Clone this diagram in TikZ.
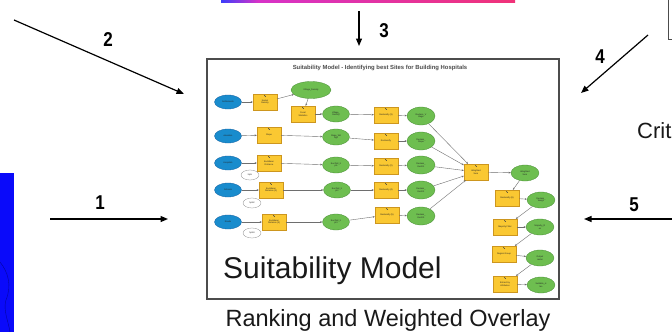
\documentclass[tikz,border=0pt]{standalone}
\usepackage{fontspec}
\setmainfont{Liberation Sans}
\usetikzlibrary{shapes.geometric,arrows.meta}
\definecolor{mblue}{RGB}{25,140,205}
\definecolor{mbluedk}{RGB}{20,95,160}
\definecolor{mgreen}{RGB}{110,190,80}
\definecolor{mgreendk}{RGB}{70,140,50}
\definecolor{myellow}{RGB}{250,200,50}
\definecolor{myellowdk}{RGB}{205,150,30}
\definecolor{edgegray}{RGB}{110,110,110}
\definecolor{barblue}{RGB}{60,60,250}
\definecolor{barmag}{RGB}{215,50,200}
\definecolor{barpink}{RGB}{240,50,120}
\definecolor{mapblue}{RGB}{10,10,250}
\tikzset{
  tiny/.style={font=\fontsize{2.2}{2.6}\selectfont, text=black!85, align=center, inner sep=0pt},
  inblue/.style={tiny, ellipse, fill=mblue, draw=mbluedk, line width=0.3pt, minimum width=27pt, minimum height=14pt},
  ingreen/.style={tiny, ellipse, fill=mgreen, draw=mgreendk, line width=0.3pt, minimum width=27pt, minimum height=16pt},
  inwhite/.style={tiny, ellipse, fill=white, draw=black!45, line width=0.3pt, minimum width=18pt, minimum height=10pt},
  tool/.style={tiny, rectangle, fill=myellow, draw=myellowdk, line width=0.3pt, minimum width=24pt, minimum height=16pt,
    path picture={\draw[line width=0.5pt, black!75] ([shift={(-0.7pt,-1.2pt)}]path picture bounding box.north) -- ++(1.4pt,-1.6pt);}},
  flow/.style={draw=edgegray, line width=0.4pt, -{Stealth[length=2.2pt,width=1.8pt]}},
  bigarrow/.style={draw=black, line width=1.2pt, -{Triangle[length=7.5pt,width=6pt]}},
  num/.style={font=\fontsize{20}{20}\selectfont\bfseries, xscale=0.85, inner sep=0pt},
}
\begin{document}
\begin{tikzpicture}[x=1pt,y=-1pt]
\useasboundingbox (0,0) rectangle (672,332);
\fill[white] (0,0) rectangle (672,332);

% top gradient bar
\shade[left color=barblue, right color=barmag] (221,0) rectangle (258,2.5);
\shade[left color=barmag, right color=barpink] (258,0) rectangle (515,2.5);

% left map fragment
\fill[mapblue] (0,173) rectangle (14,332);
\draw[blue!40!black, line width=0.4pt, opacity=0.6] (0,262) .. controls (8,272) and (12,285) .. (6,300) .. controls (3,310) and (8,320) .. (10,332);

% top right box fragment
\draw[black!70, line width=0.8pt] (668,0) -- (668,39) -- (672,39);

% main frame
\draw[black!70, line width=1.2pt, fill=white] (207,59) rectangle (559,299);
\node[font=\fontsize{5.9}{6}\selectfont\bfseries, text=black!70, inner sep=0pt] (title) at (380,68) {Suitability Model - Identifying best Sites for Building Hospitals};

% row 1
\node[inblue] (b1) at (228,102) {Settlements};
\node[tool] (k1) at (265,102) {Kernel\\Density};
\node[ingreen, minimum width=40pt, minimum height=17pt] (vd) at (311,90) {Village\_Density};
\node[tool] (fs) at (303,114) {Focal\\Statistics};
\node[ingreen] (g1a) at (336,114) {Village\_\\Density};
\node[tool] (r1) at (386,115) {Reclassify (3)};
\node[ingreen, minimum width=28pt, minimum height=18pt] (g1b) at (421,116) {Reclass\_V\\illage};
% row 2
\node[inblue] (b2) at (228,136) {elevation};
\node[tool] (y2) at (269,135) {Slope};
\node[ingreen] (g2a) at (336,137) {Slope\_Wil\\Dgit};
\node[tool] (r2) at (386,141) {Reclassify};
\node[ingreen, minimum width=28pt, minimum height=18pt] (g2b) at (421,141) {Reclass\_\\Slope};
% row 3
\node[inblue] (b3) at (228,163) {Hospitals};
\node[tool] (y3) at (269,163) {Euclidean\\Distance};
\node[inwhite] (w3) at (250,175) {hpts};
\node[ingreen] (g3a) at (336,165) {EucDist\_h\\pts};
\node[tool] (r3) at (386,166) {Reclassify (2)};
\node[ingreen, minimum width=28pt, minimum height=18pt] (g3b) at (421,165) {Reclass\_\\EucD1};
% row 4
\node[inblue] (b4) at (228,190) {Schools};
\node[tool] (y4) at (271,190) {Euclidean\\Distance (2)};
\node[inwhite] (w4) at (252,203) {hpts2};
\node[ingreen] (g4a) at (337,190) {EucDist\_h\\pt2};
\node[tool] (r4) at (386,190) {Reclassify (4)};
\node[ingreen, minimum width=28pt, minimum height=18pt] (g4b) at (421,190) {Reclass\_\\EucD2};
% row 5
\node[inblue] (b5) at (228,222) {Roads};
\node[tool] (y5) at (274,222) {Euclidean\\Distance (3)};
\node[inwhite] (w5) at (252,233) {hpts3};
\node[ingreen] (g5a) at (336,222) {EucDist\_h\\pt3};
\node[tool] (r5) at (387,215) {Reclassify (5)};
\node[ingreen, minimum width=28pt, minimum height=18pt] (g5b) at (421,216) {Reclass\_\\EucD3};
% output chain
\node[tool] (ws) at (476,172) {Weighted\\Sum};
\node[ingreen, minimum width=28pt] (gws) at (525,173) {Weighted\\Sum};
\node[tool] (r6) at (507,198) {Reclassify (6)};
\node[ingreen, minimum width=28pt] (g6) at (541,200) {Reclass\_\\Weig1};
\node[tool] (mf) at (505,227) {Majority Filter};
\node[ingreen, minimum width=28pt] (gmf) at (540,227) {Majority\_R\\ec};
\node[tool] (rg) at (504,254) {Region Group};
\node[ingreen, minimum width=28pt] (grg) at (540,258) {Output\\raster};
\node[tool] (ex) at (505,284) {Extract by\\Attributes};
\node[ingreen, minimum width=28pt] (gex) at (541,285) {Suitable\_si\\tes};

% model flows
\draw[flow] (b1) -- (k1);
\draw[flow] (k1) -- (vd);
\draw[flow] (vd) -- (fs);
\draw[flow] (fs) -- (g1a);
\draw[flow] (g1a) -- (r1);
\draw[flow] (r1) -- (g1b);
\draw[flow] (g1b) -- (ws);
\draw[flow] (b2) -- (y2);
\draw[flow] (y2) -- (g2a);
\draw[flow] (g2a) -- (r2);
\draw[flow] (r2) -- (g2b);
\draw[flow] (g2b) -- (ws);
\draw[flow] (b3) -- (y3);
\draw[flow] (y3) -- (g3a);
\draw[flow] (g3a) -- (r3);
\draw[flow] (r3) -- (g3b);
\draw[flow] (g3b) -- (ws);
\draw[flow] (b4) -- (y4);
\draw[flow] (y4) -- (g4a);
\draw[flow] (g4a) -- (r4);
\draw[flow] (r4) -- (g4b);
\draw[flow] (g4b) -- (ws);
\draw[flow] (b5) -- (y5);
\draw[flow] (y5) -- (g5a);
\draw[flow] (g5a) -- (r5);
\draw[flow] (r5) -- (g5b);
\draw[flow] (g5b) -- (ws);
\draw[flow] (ws) -- (gws);
\draw[flow] (gws) -- (r6);
\draw[flow] (r6) -- (g6);
\draw[flow] (g6) -- (mf);
\draw[flow] (mf) -- (gmf);
\draw[flow] (gmf) -- (rg);
\draw[flow] (rg) -- (grg);
\draw[flow] (grg) -- (ex);
\draw[flow] (ex) -- (gex);

% big caption texts
\node[font=\fontsize{30}{30}\selectfont, anchor=base west, inner sep=0pt, text=black!90] (smodel) at (223,278) {Suitability Model};
\node[font=\fontsize{23.5}{24}\selectfont, anchor=base, inner sep=0pt, text=black!90] (rank) at (388,326.5) {Ranking and Weighted Overlay};
\node[font=\fontsize{22}{22}\selectfont, anchor=base west, inner sep=0pt, text=black!90] (crit) at (637,138) {Crit};

% numbered arrows
\coordinate (a1s) at (50,219);  \coordinate (a1e) at (168,219);
\coordinate (a2s) at (14,20);   \coordinate (a2e) at (184,94);
\coordinate (a3s) at (359,11);  \coordinate (a3e) at (359,46);
\coordinate (a4s) at (648,35);  \coordinate (a4e) at (581,93);
\coordinate (a5s) at (672,219); \coordinate (a5e) at (584,219);
\draw[bigarrow] (a1s) -- (a1e);
\draw[bigarrow] (a2s) -- (a2e);
\draw[bigarrow] (a3s) -- (a3e);
\draw[bigarrow] (a4s) -- (a4e);
\draw[bigarrow] (a5s) -- (a5e);
\node[num] (n1) at (100,203) {1};
\node[num] (n2) at (108,40) {2};
\node[num] (n3) at (384,31) {3};
\node[num] (n4) at (600,57) {4};
\node[num] (n5) at (634,205) {5};
\end{tikzpicture}
\end{document}
